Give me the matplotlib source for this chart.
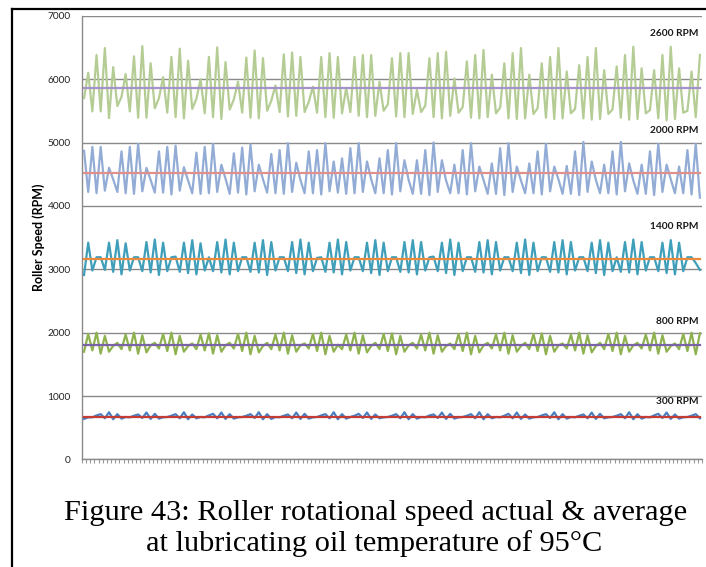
# plot.py
# Roller rotational speed, actual & average, at 95 C oil temperature
# five speed settings, each with its average line

import numpy as np
import matplotlib
matplotlib.use('Agg')
import matplotlib.pyplot as plt
from matplotlib.lines import Line2D


# actual speed samples (149 samples per run)
rpm_2600 = [
    5700, 6100, 5490, 6380, 5490, 6490, 5385, 6190, 5575, 5720,
    6080, 5490, 6360, 5390, 6520, 5390, 6250, 5540, 5700, 6030,
    5470, 6350, 5400, 6480, 5380, 6290, 5530, 5690, 6000, 5460,
    6350, 5400, 6500, 5370, 6270, 5520, 5680, 5960, 5470, 6340,
    5390, 6450, 5380, 6330, 5500, 5660, 5900, 5480, 6390, 5410,
    6420, 5420, 6350, 5480, 5640, 5880, 5470, 6350, 5400, 6410,
    5390, 6350, 5460, 5860, 5480, 6350, 5420, 6380, 5400, 6380,
    5420, 5960, 5500, 5600, 6330, 5410, 6410, 5400, 6410, 5450,
    5830, 5480, 5580, 6330, 5400, 6410, 5380, 6430, 5420, 6010,
    5470, 5560, 6280, 5390, 6380, 5380, 6460, 5400, 6070, 5460,
    5550, 6250, 5380, 6410, 5370, 6490, 5380, 6070, 5450, 5540,
    6250, 5390, 6350, 5370, 6490, 5380, 6120, 5460, 5530, 6220,
    5380, 6350, 5360, 6490, 5370, 6140, 5450, 5520, 6200, 5390,
    6380, 5360, 6510, 5370, 6170, 5460, 5510, 6140, 5380, 6380,
    5350, 6510, 5370, 6170, 5470, 5500, 6120, 5400, 6380,
]

rpm_2000 = [
    4870, 4220, 4930, 4200, 4930, 4240, 4600, 4420, 4220,
    4860, 4200, 4930, 4190, 4980, 4230, 4600, 4410, 4210,
    4860, 4210, 4930, 4180, 4950, 4240, 4610, 4400, 4200,
    4840, 4190, 4930, 4200, 4980, 4220, 4650, 4430, 4190,
    4830, 4210, 4920, 4180, 4970, 4230, 4650, 4420, 4210,
    4820, 4200, 4880, 4190, 4990, 4220, 4680, 4410, 4200,
    4860, 4200, 4880, 4180, 4990, 4230, 4700, 4210,
    4750, 4190, 4910, 4200, 4990, 4220, 4700, 4420, 4200,
    4750, 4200, 4880, 4180, 4990, 4230, 4720, 4410, 4190,
    4720, 4190, 4880, 4170, 5000, 4220, 4720, 4400, 4200,
    4650, 4200, 4880, 4180, 4990, 4230, 4620, 4410, 4190,
    4670, 4190, 4910, 4170, 4990, 4220, 4620, 4400, 4200,
    4670, 4200, 4860, 4180, 4980, 4230, 4620, 4420, 4190,
    4630, 4190, 4860, 4170, 5010, 4220, 4700, 4410, 4200,
    4650, 4200, 4860, 4180, 5010, 4230, 4670, 4400, 4190,
    4650, 4190, 4860, 4170, 4980, 4220, 4650, 4420, 4200,
    4620, 4200, 4880, 4180, 4980, 4130,
]

rpm_1400 = [
    2910, 3420, 2980, 3190, 3190, 2990,
    3420, 2960, 3460, 2920, 3410, 2980, 3190, 3190, 2970,
    3430, 2950, 3470, 2910, 3420, 2970, 3190, 3200, 2960,
    3420, 2940, 3460, 2920, 3410, 2980, 3190, 2970,
    3430, 2950, 3470, 2920, 3420, 2970, 3190, 3190, 2960,
    3420, 2950, 3460, 2910, 3430, 2980, 3190, 3190, 2970,
    3430, 2940, 3470, 2920, 3420, 2970, 3180, 3190, 2960,
    3420, 2950, 3470, 2920, 3430, 2980, 3190, 3190, 2970,
    3420, 2940, 3460, 2910, 3420, 2970, 3190, 3190, 2960,
    3430, 2950, 3460, 2920, 3430, 2980, 3190, 3200, 2970,
    3420, 2940, 3470, 2910, 3420, 2970, 3190, 3190, 2960,
    3430, 2950, 3460, 2920, 3430, 2980, 3190, 3190, 2970,
    3420, 2940, 3470, 2910, 3420, 2970, 3190, 3190, 2960,
    3430, 2950, 3460, 2920, 3430, 2980, 3190, 3190, 2970,
    3420, 2940, 3460, 2910, 3420, 2970, 3190, 2960,
    3430, 2950, 3470, 2920, 3430, 2980, 3190, 3190, 2970,
    3420, 2940, 3460, 2920, 3420, 2970, 3190, 3190, 3100,
    2990,
]

rpm_800 = [
    1700,
    1980, 1720, 2000, 1670, 1950, 1700, 1790, 1840, 1740,
    1970, 1720, 2000, 1670, 1960, 1690, 1800, 1840, 1750,
    1980, 1710, 2000, 1660, 1950, 1700, 1790, 1830, 1740,
    1970, 1720, 1990, 1670, 1960, 1700, 1800, 1840, 1750,
    1980, 1710, 2000, 1660, 1950, 1690, 1790, 1840, 1740,
    1970, 1720, 2000, 1670, 1960, 1700, 1800, 1830, 1750,
    1980, 1710, 2000, 1660, 1950, 1700, 1810, 1740,
    1970, 1720, 2000, 1670, 1960, 1690, 1790, 1840, 1740,
    1980, 1710, 1990, 1660, 1950, 1700, 1800, 1840, 1750,
    1970, 1720, 2000, 1670, 1960, 1700, 1790, 1830, 1740,
    1980, 1710, 2000, 1660, 1950, 1690, 1800, 1840, 1750,
    1970, 1720, 2000, 1670, 1960, 1700, 1790, 1840, 1740,
    1980, 1710, 1990, 1660, 1950, 1700, 1800, 1830, 1750,
    1970, 1720, 2000, 1670, 1960, 1690, 1790, 1840, 1740,
    1980, 1710, 2000, 1660, 1950, 1700, 1800, 1840, 1750,
    1970, 1720, 2000, 1670, 1960, 1700, 1790, 1830, 1740,
    1980, 1710, 2000, 1660, 1990,
]

rpm_300 = [
    640, 665, 665, 695,
    715, 650, 745, 635, 715, 645, 670, 665, 690,
    710, 655, 740, 640, 720, 645, 665, 670, 690,
    715, 650, 745, 635, 710, 650, 670, 665, 695,
    720, 650, 740, 640, 715, 645, 665, 670, 690,
    715, 655, 745, 635, 715, 640, 670, 665, 690,
    710, 650, 740, 640, 720, 645, 665, 670, 695,
    715, 650, 745, 635, 715, 645, 670, 690,
    720, 655, 740, 640, 710, 650, 665, 670, 690,
    715, 650, 745, 635, 715, 645, 670, 665, 695,
    710, 655, 740, 640, 720, 645, 665, 670, 690,
    715, 650, 745, 635, 715, 650, 670, 665, 690,
    720, 650, 740, 640, 710, 645, 665, 670, 695,
    715, 655, 745, 635, 715, 645, 670, 665, 690,
    710, 650, 740, 640, 720, 650, 665, 670, 690,
    715, 650, 745, 635, 715, 645, 670, 665, 695,
    720, 655, 740, 640, 710, 645, 665, 670, 690,
    715, 650,
]

# average speed of each run
avg_2600 = 5864
avg_2000 = 4514
avg_1400 = 3162
avg_800 = 1806
avg_300 = 675

run_labels = ['2600 RPM', '2000 RPM', '1400 RPM', '800 RPM', '300 RPM']
y_ticks = [0, 1000, 2000, 3000, 4000, 5000, 6000, 7000]


def main():
    plt.rcParams['font.family'] = ['Lato', 'DejaVu Sans']

    fig = plt.figure(figsize=(7.06, 5.67), dpi=100)
    ax = fig.add_axes([0.1161, 0.1896, 0.8782, 0.7827])

    runs = [
        (rpm_2600, avg_2600, '#b5cd95', '#a493c8'),
        (rpm_2000, avg_2000, '#93acd6', '#e0908c'),
        (rpm_1400, avg_1400, '#3f9fba', '#eb8a3d'),
        (rpm_800,  avg_800,  '#8eb24f', '#7a63a6'),
        (rpm_300,  avg_300,  '#4a7ebf', '#c43c34'),
    ]
    n = len(rpm_2600)
    x = np.arange(n)

    # actual speed lines
    for vals, avg, col, avg_col in runs:
        ax.plot(x, vals, color=col, linewidth=1.6, zorder=3)

    # average lines on top
    for vals, avg, col, avg_col in runs:
        ax.plot(x, [avg] * n, color=avg_col, linewidth=1.6, zorder=4)

    # run labels at the right
    label_y = [6727, 5197, 3672, 2173, 912]
    for lab, yy in zip(run_labels, label_y):
        ax.text(0.995, yy, lab, transform=ax.get_yaxis_transform(),
                ha='right', va='center', fontsize=7.3, fontweight='bold',
                color='#1a1a1a')

    ax.set_xlim(-0.5, n - 0.5)
    ax.set_ylim(0, 7000)
    ax.set_yticks(y_ticks)
    ax.set_xticks(np.arange(n + 1) - 0.5)
    ax.set_xticklabels([])
    ax.tick_params(axis='y', length=0, labelsize=7.3, pad=8,
                   labelcolor='#222222')
    ax.tick_params(axis='x', length=3, width=0.8, color='#9a9a9a')
    ax.grid(axis='y', color='#8a8a8a', linewidth=1.0, zorder=1)
    ax.set_axisbelow(True)

    for side in ['top', 'right']:
        ax.spines[side].set_visible(False)
    for side in ['left', 'bottom']:
        ax.spines[side].set_color('#8a8a8a')
        ax.spines[side].set_linewidth(1.0)

    ax.set_ylabel('Roller Speed (RPM)', fontsize=9, fontweight='bold')
    ax.yaxis.set_label_coords(-0.060, 0.5)

    # caption below the chart
    cap_font = ['Liberation Serif', 'DejaVu Serif']
    fig.text(0.532, 0.0825,
             'Figure 43: Roller rotational speed actual & average',
             ha='center', va='baseline', fontsize=21.9, family=cap_font)
    fig.text(0.530, 0.0275,
             'at lubricating oil temperature of 95\u00b0C',
             ha='center', va='baseline', fontsize=21.9, family=cap_font)

    # frame lines on the left and top
    fig.add_artist(Line2D([0.017, 0.017], [0.0, 0.984],
                          transform=fig.transFigure, color='black',
                          linewidth=1.6))
    fig.add_artist(Line2D([0.017, 1.0], [0.984, 0.984],
                          transform=fig.transFigure, color='black',
                          linewidth=1.6))

    fig.savefig('out.png', dpi=100)
    plt.close(fig)
    print("Saved: out.png")


if __name__ == "__main__":
    main()
